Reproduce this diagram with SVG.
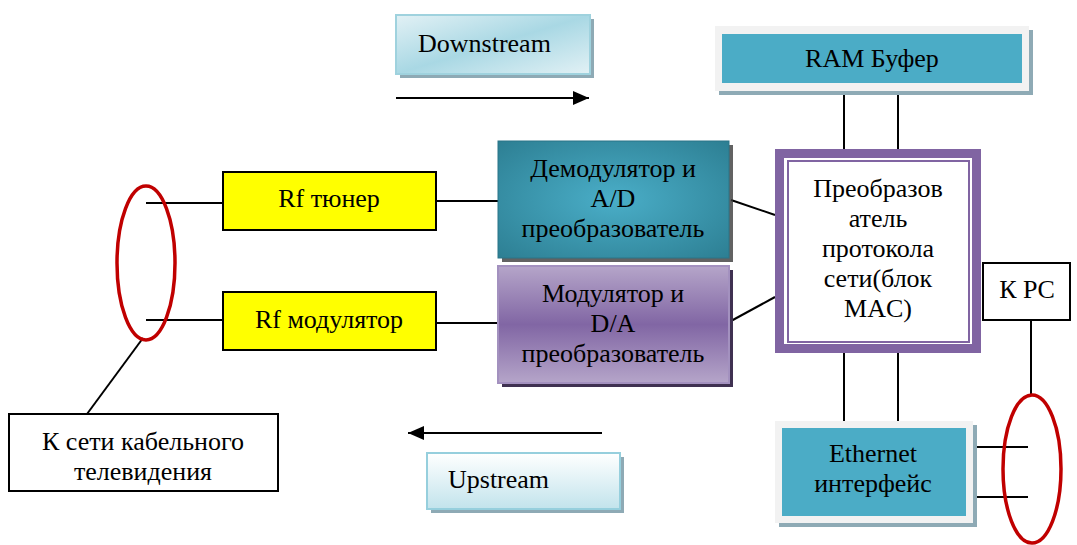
<svg xmlns="http://www.w3.org/2000/svg" width="1077" height="545" viewBox="0 0 1077 545" font-family="'Liberation Serif', 'Times New Roman', 'DejaVu Serif', serif">
<defs>
<linearGradient id="gDown" x1="0" y1="0" x2="1" y2="1">
<stop offset="0" stop-color="#e2f1f5"/><stop offset="0.5" stop-color="#a9d8e4"/><stop offset="1" stop-color="#e2f1f5"/>
</linearGradient>
<linearGradient id="gUp" x1="0" y1="0" x2="0" y2="1">
<stop offset="0" stop-color="#ffffff"/><stop offset="1" stop-color="#c2e3ec"/>
</linearGradient>
<radialGradient id="gDemod" cx="0.5" cy="0.5" r="0.7">
<stop offset="0" stop-color="#4aaec8"/><stop offset="1" stop-color="#2d7f93"/>
</radialGradient>
<linearGradient id="gMod" x1="0" y1="0" x2="0" y2="1">
<stop offset="0" stop-color="#b5a5c9"/><stop offset="0.5" stop-color="#8166a4"/><stop offset="1" stop-color="#b5a5c9"/>
</linearGradient>
<marker id="arr" viewBox="0 0 16 14" refX="16" refY="7" markerWidth="16" markerHeight="14" markerUnits="userSpaceOnUse" orient="auto">
<path d="M0,0 L16,7 L0,14 Z" fill="#000"/>
</marker>
<style>
text{font-size:26px;fill:#000;}
.c{text-anchor:middle;}
.ln{stroke:#000;stroke-width:2;fill:none;}
.ell{stroke:#c00000;stroke-width:3.5;fill:none;}
.shadow{fill:#8eaab5;}
.yel{fill:#ffff00;stroke:#000;stroke-width:2;}
.wbox{fill:#fff;stroke:#000;stroke-width:2;}
.teal{fill:#4bacc6;}
.gray{fill:#f2f2f2;}
</style>
</defs>

<g id="connectors">
<line class="ln" x1="396" y1="98" x2="589" y2="98" marker-end="url(#arr)"/>
<line class="ln" x1="602" y1="433" x2="408" y2="433" marker-end="url(#arr)"/>
<line class="ln" x1="146" y1="203" x2="223" y2="203"/>
<line class="ln" x1="146" y1="320" x2="223" y2="320"/>
<line class="ln" x1="436" y1="201" x2="498" y2="201"/>
<line class="ln" x1="436" y1="323" x2="498" y2="323"/>
<line class="ln" x1="731" y1="200" x2="775" y2="215"/>
<line class="ln" x1="731" y1="321" x2="775" y2="297"/>
<line class="ln" x1="844" y1="91" x2="844" y2="149"/>
<line class="ln" x1="898" y1="91" x2="898" y2="149"/>
<line class="ln" x1="844" y1="353" x2="844" y2="421"/>
<line class="ln" x1="898" y1="353" x2="898" y2="421"/>
<line class="ln" x1="1031" y1="320" x2="1031" y2="395"/>
<line class="ln" x1="969" y1="447" x2="1028" y2="447"/>
<line class="ln" x1="969" y1="497" x2="1028" y2="497"/>
<line class="ln" x1="143" y1="338" x2="87" y2="414"/>
</g>

<g id="downstream">
<rect class="shadow" x="400" y="19" width="194" height="59"/>
<rect x="396" y="15" width="194" height="59" fill="url(#gDown)" stroke="#9fd2de" stroke-width="2"/>
<text x="418" y="52">Downstream</text>
</g>

<g id="upstream">
<rect class="shadow" x="431" y="457" width="193" height="56"/>
<rect x="427" y="453" width="193" height="56" fill="url(#gUp)" stroke="#96cfdd" stroke-width="2"/>
<text x="448" y="488">Upstream</text>
</g>

<g id="ram">
<rect class="shadow" x="719" y="30" width="314" height="65"/>
<rect class="gray" x="715" y="26" width="314" height="65"/>
<rect class="teal" x="722" y="34" width="300" height="49"/>
<text class="c" x="872" y="67">RAM Буфер</text>
</g>

<g id="demod">
<rect x="502" y="145" width="231" height="117" fill="#3b3b3b" opacity="0.8"/>
<rect x="498" y="141" width="231" height="117" fill="url(#gDemod)" stroke="#2a7488" stroke-width="1"/>
<text class="c" x="613" y="177">Демодулятор и</text>
<text class="c" x="613" y="207">A/D</text>
<text class="c" x="613" y="237">преобразователь</text>
</g>

<g id="mod">
<rect x="502" y="270" width="231" height="117" fill="#3f3151"/>
<rect x="498" y="266" width="231" height="117" fill="url(#gMod)" stroke="#a391bf" stroke-width="2"/>
<text class="c" x="613" y="302">Модулятор и</text>
<text class="c" x="613" y="332">D/A</text>
<text class="c" x="613" y="362">преобразователь</text>
</g>

<g id="mac">
<rect x="779.5" y="153.5" width="197" height="195" fill="#fff" stroke="#8064a2" stroke-width="9"/>
<rect x="788" y="161" width="181" height="181" fill="none" stroke="#8064a2" stroke-width="2"/>
<text class="c" x="878" y="197">Преобразов</text>
<text class="c" x="878" y="227">атель</text>
<text class="c" x="878" y="257">протокола</text>
<text class="c" x="878" y="287">сети(блок</text>
<text class="c" x="878" y="317">MAC)</text>
</g>

<g id="kpc">
<rect class="wbox" x="983" y="263" width="87" height="57"/>
<text class="c" x="1027" y="298">К PC</text>
</g>

<g id="ethernet">
<rect class="shadow" x="779" y="425" width="198" height="102"/>
<rect class="gray" x="775" y="421" width="198" height="102"/>
<rect class="teal" x="782" y="428" width="184" height="88"/>
<text class="c" x="873" y="462">Ethernet</text>
<text class="c" x="873" y="492">интерфейс</text>
</g>

<g id="ellipse-pc">
<ellipse class="ell" cx="1032" cy="469" rx="29" ry="74"/>
</g>

<g id="rf-tuner">
<rect class="yel" x="223" y="172" width="213" height="58"/>
<text class="c" x="329" y="207">Rf тюнер</text>
</g>

<g id="rf-mod">
<rect class="yel" x="223" y="292" width="213" height="58"/>
<text class="c" x="329" y="328">Rf модулятор</text>
</g>

<g id="ellipse-cable">
<ellipse class="ell" cx="146" cy="263" rx="29" ry="77"/>
</g>

<g id="cable-tv">
<rect class="wbox" x="9" y="414" width="269" height="77"/>
<text class="c" x="143" y="450">К сети кабельного</text>
<text class="c" x="143" y="480">телевидения</text>
</g>
</svg>
